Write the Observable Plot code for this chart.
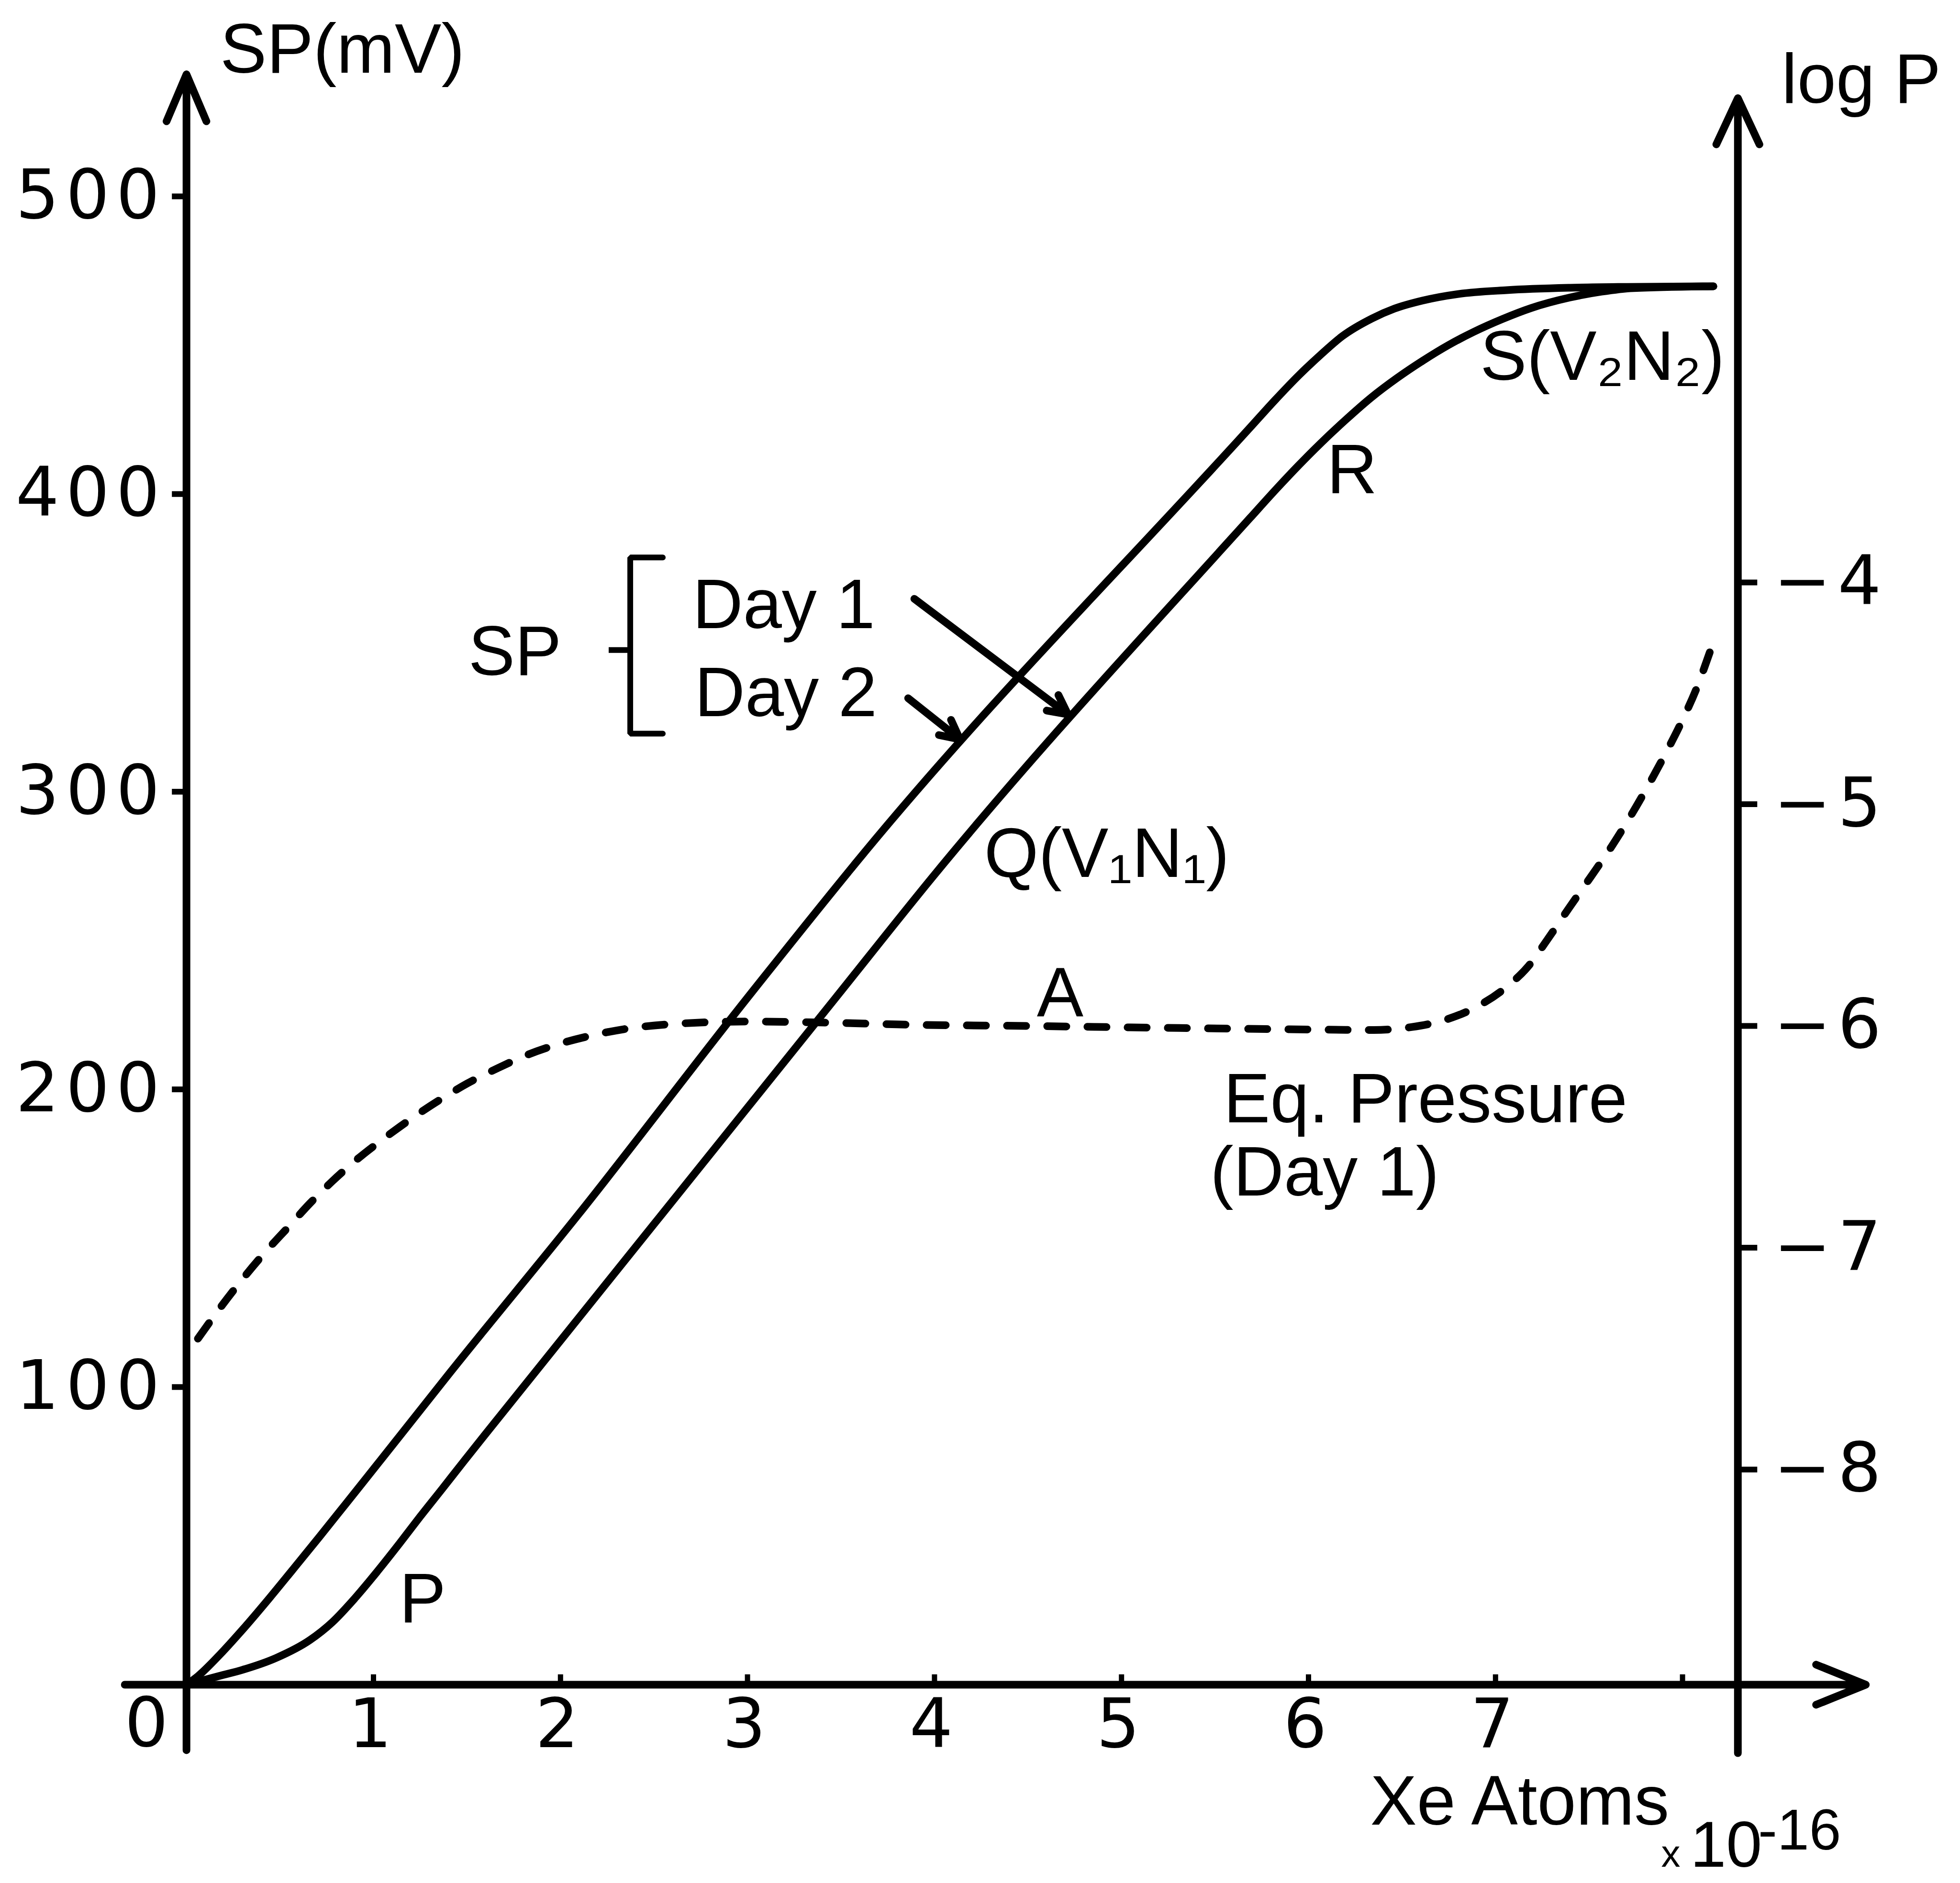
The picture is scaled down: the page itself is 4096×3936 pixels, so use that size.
<!DOCTYPE html>
<html><head><meta charset="utf-8">
<script src="https://cdn.jsdelivr.net/npm/d3@7"></script>
<script src="https://cdn.jsdelivr.net/npm/@observablehq/plot@0.6"></script>
<style>
html,body{margin:0;padding:0;background:#fff;}
</style>
</head><body><div id="chart"></div>
<script>
// ---- Surface potential (SP, mV) vs Xe atoms (x 10^16) ----
const day1X  = [0, 0.06, 0.18, 0.30, 0.48, 0.66, 0.78, 0.90, 1.02, 1.14, 1.25, 1.37, 1.48, 1.59, 1.857, 3.472, 3.984, 5.688, 5.825, 5.945, 6.064, 6.200, 6.337, 6.474, 6.611, 6.747, 6.884, 7.037, 7.191, 7.396, 7.567, 7.738, 8.165];
const day1SP = [0, 1.0, 3.0, 5.0, 9.0, 15.0, 21.0, 29.0, 38.0, 47.5, 56.5, 66.0, 74.8, 83.5, 104.4, 230.8, 270.9, 392.0, 401.5, 409.5, 417.0, 425.0, 432.5, 439.0, 444.8, 450.0, 454.5, 458.8, 462.5, 466.0, 468.0, 469.2, 469.8];

const day2X  = [0, 0.06, 0.18, 0.30, 0.445, 0.565, 0.71, 0.85, 1.02, 1.15, 1.41, 2.10, 3.00, 3.62, 5.69, 5.82, 5.95, 6.06, 6.18, 6.34, 6.46, 6.61, 6.80, 7.06, 7.40, 7.70, 8.165];
const day2SP = [0, 2.8, 10.2, 18.5, 29.2, 38.4, 49.6, 60.6, 74.0, 84.3, 104.9, 158.3, 230.8, 279.2, 422.5, 431.5, 440.0, 446.5, 453.0, 459.0, 462.3, 465.0, 467.2, 468.5, 469.3, 469.6, 469.8];

// ---- Equilibrium pressure, Day 1 (log P) ----
const eqX    = [0.061, 0.181, 0.301, 0.421, 0.541, 0.660, 0.780, 0.900, 1.020, 1.140, 1.260, 1.380, 1.500, 1.665, 1.809, 1.977, 2.156, 2.336, 2.622, 3.005, 3.437, 3.800, 4.500, 5.200, 5.900, 6.350, 6.550, 6.740, 6.905, 7.059, 7.175, 7.277, 7.393, 7.509, 7.625, 7.714, 7.817, 7.907, 7.997, 8.074, 8.164];
const eqLogP = [-7.41, -7.27, -7.14, -7.02, -6.91, -6.80, -6.70, -6.61, -6.53, -6.455, -6.385, -6.32, -6.26, -6.19, -6.135, -6.085, -6.045, -6.015, -5.99, -5.98, -5.985, -5.993, -6.000, -6.008, -6.015, -6.018, -6.005, -5.970, -5.911, -5.824, -5.731, -5.611, -5.468, -5.328, -5.185, -5.065, -4.915, -4.775, -4.625, -4.480, -4.270];

// ---- Axis ticks ----
const xTicks = [1, 2, 3, 4, 5, 6, 7, 8];
const xTickLabels = [1, 2, 3, 4, 5, 6, 7];
const spTicks = [100, 200, 300, 400, 500];
const logTicks = [-4, -5, -6, -7, -8];
const logTickLabels = ["\u22124", "\u22125", "\u22126", "\u22127", "\u22128"];

// right (log P) axis calibration: log P = -4 sits at SP 370.3; one decade = 74.5 of SP axis
const toSP = l => 370.3 + (l + 4) * 74.5;
const logLabel = new Map(logTicks.map((t, i) => [toSP(t), logTickLabels[i]]));

const day1 = day1X.map((x, i) => ({x, sp: day1SP[i]}));
const day2 = day2X.map((x, i) => ({x, sp: day2SP[i]}));
const eq = eqX.map((x, i) => ({x, logP: eqLogP[i]}));

const INK = "#000";
const SW = 16;
const LETTERS = "Liberation Sans";
const DIGITS = "DejaVu Sans";
const FS = 146;

const txt = (s, x, y, o = {}) => Plot.text([s], {x: () => x, y: () => y, text: d => d, textAnchor: "start", lineAnchor: "bottom", fontSize: FS, fontFamily: LETTERS, fill: INK, ...o});
const arrowStyle = {stroke: INK, strokeWidth: SW, strokeLinecap: "round", strokeLinejoin: "round"};

const chart = Plot.plot({
  width: 4096, height: 3936,
  marginLeft: 389.2, marginRight: 464.7, marginTop: 410, marginBottom: 415,
  x: {domain: [0, 8.296]},
  y: {domain: [0, 500]},
  style: {background: "#fff", color: INK, fontFamily: LETTERS, overflow: "visible"},
  marks: [
    // axes with arrow heads
    Plot.arrow([0], {x1: -0.33, y1: 0, x2: 8.98, y2: 0, headLength: 10.5, headAngle: 44, ...arrowStyle}),
    Plot.arrow([0], {x1: 0, y1: -22, x2: 0, y2: 541, headLength: 10, headAngle: 46, ...arrowStyle}),
    Plot.arrow([0], {x1: 8.296, y1: -23, x2: 8.296, y2: 533, headLength: 10, headAngle: 50, ...arrowStyle}),
    // x ticks pointing up
    Plot.ruleX(xTicks, {x: d => d, y1: 0, y2: 3.4, stroke: INK, strokeWidth: 11}),
    Plot.axisX({ticks: xTickLabels, tickSize: 0, tickPadding: 29, fontSize: 143, fontFamily: DIGITS, label: null, stroke: "none"}),
    Plot.axisY({anchor: "left", ticks: spTicks, tickSize: 30, tickPadding: 12, strokeWidth: 12, fontSize: 143, fontFamily: DIGITS, label: null}),
    Plot.axisY({anchor: "right", ticks: logTicks.map(toSP), tickFormat: d => logLabel.get(d), tickSize: 40, tickPadding: 35, strokeWidth: 12, fontSize: 143, fontFamily: DIGITS, label: null}),
    txt("0", -0.214, -20.6, {textAnchor: "middle", fontFamily: DIGITS, fontSize: 143}),

    // data curves
    Plot.line(day1, {x: "x", y: "sp", curve: "monotone-x", stroke: INK, strokeWidth: SW, strokeLinecap: "round", strokeLinejoin: "round"}),
    Plot.line(day2, {x: "x", y: "sp", curve: "monotone-x", stroke: INK, strokeWidth: SW, strokeLinecap: "round", strokeLinejoin: "round"}),
    Plot.line(eq, {x: "x", y: d => toSP(d.logP), curve: "monotone-x", stroke: INK, strokeWidth: SW, strokeDasharray: "40 44", strokeLinecap: "round"}),

    // legend bracket and pointer arrows
    Plot.line([[2.547, 378.7], [2.373, 378.7], [2.373, 319.5], [2.547, 319.5]], {x: d => d[0], y: d => d[1], stroke: INK, strokeWidth: 12, strokeLinejoin: "miter"}),
    Plot.ruleY([347.6], {x1: 2.259, x2: 2.373, y: d => d, stroke: INK, strokeWidth: 12}),
    Plot.arrow([0], {x1: 3.892, y1: 364.8, x2: 4.713, y2: 326.0, headLength: 4.2, headAngle: 54, ...arrowStyle}),
    Plot.arrow([0], {x1: 3.859, y1: 331.4, x2: 4.136, y2: 317.6, headLength: 4.2, headAngle: 54, ...arrowStyle}),

    // texts
    txt("SP(mV)", 0.18, 541.6),
    txt("log P", 8.53, 531.5),
    txt("SP", 1.507, 339.2),
    txt("Day 1", 2.706, 355.0),
    txt("Day 2", 2.717, 325.3),
    txt("P", 1.138, 21.0),
    txt("Q(V\u2081N\u2081)", 4.266, 271.3),
    txt("A", 4.672, 224.5, {textAnchor: "middle"}),
    txt("Eq. Pressure", 5.546, 189.0),
    txt("(Day 1)", 5.474, 164.3),
    txt("R", 6.098, 400.3),
    txt("S(V\u2082N\u2082)", 6.918, 438.4),
    txt("Xe Atoms", 6.330, -47.0),
    txt("x", 7.886, -61.2, {fontSize: 80}),
    txt("10", 8.041, -61.2, {fontSize: 135}),
    txt("-16", 8.404, -55.4, {fontSize: 120})
  ]
});

document.getElementById("chart").appendChild(chart);
d3.select(chart).selectAll('g[aria-label="y-axis tick label"] text, g[aria-label="x-axis tick label"] text').style("letter-spacing", "14px");
</script>
</body></html>
